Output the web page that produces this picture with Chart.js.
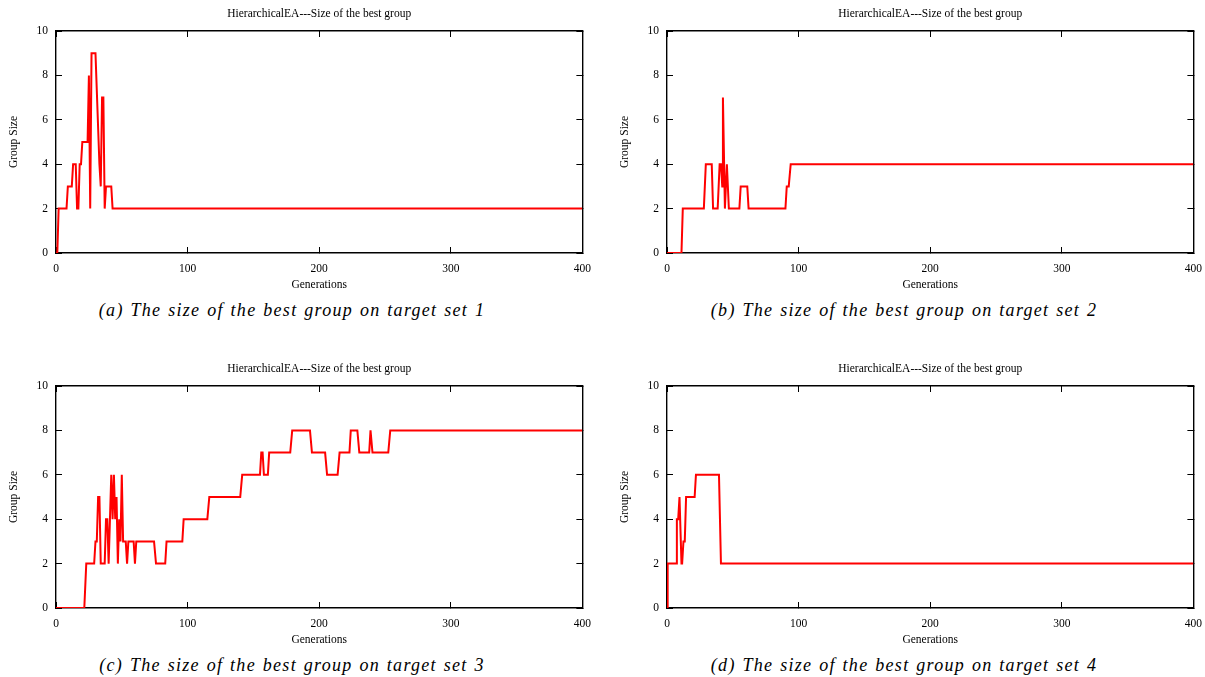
<!DOCTYPE html>
<html>
<head>
<meta charset="utf-8">
<script src="https://cdn.jsdelivr.net/npm/chart.js@4.4.1/dist/chart.umd.min.js"></script>
<style>
  html, body { margin: 0; padding: 0; background: #fff; overflow: hidden; }
  #wrap { position: relative; width: 1205px; height: 677px; overflow: hidden; }
  canvas { position: absolute; }
  .cap {
    position: absolute; text-align: center; line-height: 20px;
    font-family: "Liberation Serif", serif; font-style: italic; font-size: 18px;
    letter-spacing: 1.3px; word-spacing: 1px; color: #000; white-space: nowrap;
  }
</style>
</head>
<body>
<div id="wrap">
  <canvas id="chartA" width="606" height="295" style="left:0;top:0"></canvas>
  <canvas id="chartB" width="606" height="295" style="left:611px;top:0"></canvas>
  <canvas id="chartC" width="606" height="295" style="left:0;top:355px"></canvas>
  <canvas id="chartD" width="606" height="295" style="left:611px;top:355px"></canvas>
  <div class="cap" style="left:0;width:584px;top:300px">(a) The size of the best group on target set 1</div>
  <div class="cap" style="left:611px;width:586px;top:300px">(b) The size of the best group on target set 2</div>
  <div class="cap" style="left:0;width:584px;top:655px">(c) The size of the best group on target set 3</div>
  <div class="cap" style="left:611px;width:586px;top:655px">(d) The size of the best group on target set 4</div>
</div>
<script>
chartTitle = "HierarchicalEA---Size of the best group";
xLabel = "Generations";
yLabel = "Group Size";
xTicks = [0, 100, 200, 300, 400];
yTicks = [0, 2, 4, 6, 8, 10];

// generation / group size pairs
genA  = [0, 1, 2, 8, 9, 12, 13, 15, 16, 17, 18, 19, 20, 24, 25, 26, 27, 30, 33, 34, 35, 36, 37, 38, 42, 43, 400];
sizeA = [0, 0, 2, 2, 3, 3,  4,  4,  2,  2,  4,  4,  5,  5,  8,  2,  9,  9,  4,  3,  7,  7,  2,  3,  3,  2,  2];

genB  = [0, 11, 12, 28, 29.5, 34, 35, 38.5, 40, 41, 42, 42.5, 44, 45.5, 47, 55, 56, 61, 62, 90, 91, 92.5, 94, 400];
sizeB = [0, 0,  2,  2,  4,    4,  2,  2,    4,  4,  3,  7,    2,  4,    2,  2,  3,  3,  2,  2,  3,  3,    4,  4];

genC  = [0, 21.5, 23, 29, 30, 31, 32, 33, 34, 37, 38, 39, 40, 41, 42, 43, 44, 45, 46, 47, 48, 49, 50, 51, 53, 54, 55, 59, 60, 61,
         74.5, 76, 83, 84, 96, 97, 115, 116.5, 140, 141.5, 155, 156, 157, 158, 161, 162, 178, 179.5, 193, 194.5,
         204.5, 206, 214, 215.5, 223, 224, 229, 230.5, 238, 239, 240.5, 252.5, 254, 400];
sizeC = [0, 0,    2,  2,  3,  3,  5,  5,  2,  2,  4,  4,  2,  4,  6,  4,  6,  4,  5,  2,  4,  3,  6,  3,  3,  2,  3,  3,  2,  3,
         3,    2,  2,  3,  3,  4,  4,   5,     5,   6,     6,   7,   7,   6,   6,   7,   7,   8,     8,   7,
         7,     6,   6,   7,     7,   8,   8,   7,     7,   8,   7,     7,     8,   8];

genD  = [0, 0.5, 7, 7.5, 8.5, 9.5, 11, 11.5, 12.5, 13.5, 14.5, 21, 22, 39.5, 41, 400];
sizeD = [0, 2,   2, 4,   4,   5,   2,  2,    3,    3,    5,    5,  6,  6,    2,  2];

Chart.defaults.font.family = "'Liberation Serif', 'Times New Roman', serif";
Chart.defaults.color = "#000";

const labelFont = { size: 11.5 };

function frameAxis(pos, min, max, step, extra) {
    axis = {
        type: "linear",
        position: pos,
        min: min,
        max: max,
        grid: { drawOnChartArea: false, tickLength: -6, color: "#000", tickWidth: 1 },
        border: { color: "#000", width: 1.4 },
        ticks: { stepSize: step, display: false }
    };
    return Object.assign(axis, extra);
}

function makeChart(id, gens, sizes) {
    points = gens.map((g, i) => { return { x: g, y: sizes[i] } });
    return new Chart(document.getElementById(id), {
        type: "line",
        data: {
            datasets: [{
                data: points,
                borderColor: "#ff0000",
                borderWidth: 2,
                pointRadius: 0,
                tension: 0,
                fill: false
            }]
        },
        options: {
            responsive: false,
            animation: false,
            devicePixelRatio: 1,
            // right padding is counted twice by the layout -> 24px margin
            layout: { padding: { left: 0, right: 12, top: 0, bottom: 0 } },
            plugins: {
                legend: { display: false },
                tooltip: { enabled: false },
                title: { display: false }
            },
            scales: {
                x: frameAxis("bottom", xTicks[0], xTicks[xTicks.length - 1], 100, {
                    ticks: { stepSize: 100, padding: 15, maxRotation: 0, font: labelFont, color: "#000" },
                    title: { display: true, text: xLabel, font: labelFont, color: "#000", padding: { top: 0, bottom: 3 } },
                    afterFit: s => { s.height = 42; }
                }),
                // top axis carries the chart title so it centres over the plot
                x2: frameAxis("top", xTicks[0], xTicks[xTicks.length - 1], 100, {
                    title: { display: true, text: chartTitle, font: { size: 11.5 }, color: "#000", padding: { top: 7, bottom: 0 } },
                    afterFit: s => { s.height = 31; }
                }),
                y: frameAxis("left", yTicks[0], yTicks[yTicks.length - 1], 2, {
                    ticks: { stepSize: 2, padding: 14, font: labelFont, color: "#000" },
                    title: { display: true, text: yLabel, font: labelFont, color: "#000", padding: { top: 7, bottom: 0 } },
                    afterFit: s => { s.width = 56; }
                }),
                y2: frameAxis("right", yTicks[0], yTicks[yTicks.length - 1], 2, {
                    afterFit: s => { s.width = 0; }
                })
            }
        }
    });
}

makeChart("chartA", genA, sizeA);
makeChart("chartB", genB, sizeB);
makeChart("chartC", genC, sizeC);
makeChart("chartD", genD, sizeD);
</script>
</body>
</html>
